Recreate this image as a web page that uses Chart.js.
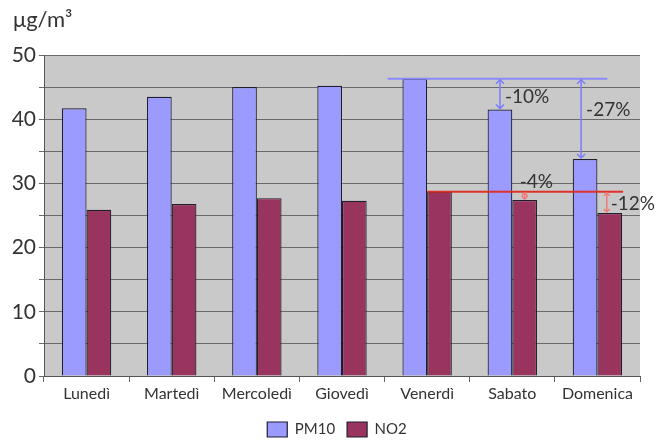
<!DOCTYPE html>
<html>
<head>
<meta charset="utf-8">
<script src="https://cdn.jsdelivr.net/npm/chart.js@4"></script>
<style>
  html, body { margin: 0; padding: 0; background: #fff; }
  #wrap { width: 656px; height: 444px; }
</style>
</head>
<body>
<div id="wrap"><canvas id="chartSmog" width="656" height="444"></canvas></div>
<script>
const giorni = ['Lunedì', 'Martedì', 'Mercoledì', 'Giovedì', 'Venerdì', 'Sabato', 'Domenica'];
const pm10 = [41.7, 43.5, 45.0, 45.2, 46.3, 41.5, 33.8];
const no2 = [25.9, 26.8, 27.7, 27.3, 28.7, 27.4, 25.4];
const yTicks = [0, 10, 20, 30, 40, 50];
const unita = 'μg/m³';

// variazioni rispetto al venerdì: [serie, giorno, testo]
const variazioni = [
    [0, 5, '-10%'],
    [0, 6, '-27%'],
    [1, 5, '-4%'],
    [1, 6, '-12%']
];

const canvas = document.getElementById('chartSmog');
const ctx = canvas.getContext('2d');

const sfondoPlot = {
    id: 'sfondoPlot',
    afterLayout(chart) {
        // la legenda nell'originale è un po' spostata a destra
        chart.legend.left += 28;
    },
    beforeDraw(chart) {
        const { ctx, chartArea } = chart;
        ctx.save();
        ctx.fillStyle = '#c9c9c9';
        ctx.fillRect(chartArea.left, chartArea.top, chartArea.width, chartArea.height);
        // unità di misura in alto a sinistra
        ctx.fillStyle = '#333';
        ctx.font = '22px Lato';
        ctx.textBaseline = 'middle';
        ctx.fillText(unita, 13, 20);
        ctx.restore();
    }
};

const freccia = (ctx, x, y1, y2, size) => {
    ctx.beginPath();
    ctx.moveTo(x, y1);
    ctx.lineTo(x, y2);
    ctx.stroke();
    ctx.beginPath();
    ctx.moveTo(x - size, y1 + size);
    ctx.lineTo(x, y1);
    ctx.lineTo(x + size, y1 + size);
    ctx.moveTo(x - size, y2 - size);
    ctx.lineTo(x, y2);
    ctx.lineTo(x + size, y2 - size);
    ctx.stroke();
};

const annotazioni = {
    id: 'annotazioni',
    afterDatasetsDraw(chart) {
        const { ctx } = chart;
        const y = chart.scales.y;
        const blu = chart.getDatasetMeta(0).data;
        const rosso = chart.getDatasetMeta(1).data;
        const w = blu[0].width;
        const yPm = y.getPixelForValue(pm10[4]);
        const yNo = y.getPixelForValue(no2[4]);

        ctx.save();
        // linea di riferimento PM10
        ctx.strokeStyle = '#8a8aff';
        ctx.lineWidth = 2;
        ctx.beginPath();
        ctx.moveTo(blu[4].x - w * 1.1, yPm);
        ctx.lineTo(rosso[6].x - w * 0.1, yPm);
        ctx.stroke();
        // linea di riferimento NO2
        ctx.strokeStyle = '#e0302a';
        ctx.beginPath();
        ctx.moveTo(rosso[4].x - w / 2, yNo);
        ctx.lineTo(rosso[6].x + w / 2 + 1, yNo);
        ctx.stroke();

        ctx.font = '19px Lato';
        ctx.fillStyle = '#333';
        ctx.textBaseline = 'middle';
        variazioni.forEach(([serie, giorno, testo]) => {
            const bar = chart.getDatasetMeta(serie).data[giorno];
            const yRef = serie === 0 ? yPm : yNo;
            ctx.lineWidth = 1.5;
            ctx.strokeStyle = serie === 0 ? '#7b7bff' : '#f07a7a';
            const x = serie === 0 ? bar.x - (giorno === 6 ? 4 : 0) : bar.x - (giorno === 6 ? 3 : 0);
            freccia(ctx, x, yRef + 1, bar.y - 1, serie === 0 ? 4 : 3);
            if (serie === 0) {
                ctx.fillText(testo, x + 5, giorno === 6 ? yRef + 31 : yRef + 18);
            } else if (giorno === 5) {
                ctx.fillText(testo, x - 5, yRef - 10);
            } else {
                ctx.fillText(testo, x + 4, yRef + 12);
            }
        });
        ctx.restore();
    }
};

const chartSmog = new Chart(ctx, {
    type: 'bar',
    data: {
        labels: giorni,
        datasets: [
            {
                label: 'PM10',
                data: pm10,
                backgroundColor: '#9a9aff',
                borderColor: '#1e1e2e',
                borderWidth: 1.2
            },
            {
                label: 'NO2',
                data: no2,
                backgroundColor: '#99345f',
                borderColor: '#1e1e2e',
                borderWidth: 1.2
            }
        ]
    },
    options: {
        responsive: false,
        animation: false,
        layout: {
            padding: { left: 6, right: 16, top: 55, bottom: -3 }
        },
        datasets: {
            bar: {
                barPercentage: 1,
                categoryPercentage: 0.58
            }
        },
        scales: {
            x: {
                afterFit: (scale) => { scale.height = 34; },
                grid: {
                    offset: true,
                    drawOnChartArea: false,
                    tickLength: 6,
                    color: '#666'
                },
                border: { color: '#555', width: 1 },
                ticks: {
                    color: '#333',
                    font: { family: 'Lato', size: 16 },
                    padding: 2,
                    maxRotation: 0,
                    autoSkip: false
                }
            },
            y: {
                min: 0,
                max: 50,
                afterFit: (scale) => { scale.width = 38; },
                grid: {
                    color: '#6a6a6a',
                    tickLength: 5
                },
                border: { color: '#555', width: 1 },
                ticks: {
                    stepSize: 5,
                    color: '#333',
                    font: { family: 'Lato', size: 21 },
                    padding: 3,
                    callback: (v) => yTicks.includes(v) ? v : ''
                }
            }
        },
        plugins: {
            legend: {
                position: 'bottom',
                labels: {
                    color: '#333',
                    font: { family: 'Lato', size: 15 },
                    boxWidth: 20,
                    boxHeight: 15,
                    padding: 12
                }
            },
            tooltip: { enabled: false }
        }
    },
    plugins: [sfondoPlot, annotazioni]
});
</script>
</body>
</html>
